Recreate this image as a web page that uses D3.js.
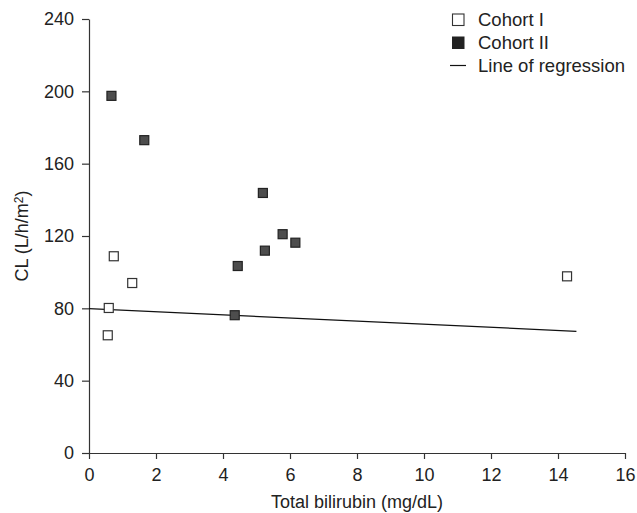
<!DOCTYPE html>
<html>
<head>
<meta charset="utf-8">
<script src="https://cdn.jsdelivr.net/npm/d3@7"></script>
<style>
  body { margin: 0; background: #fff; }
  svg text { font-family: "Liberation Sans", Arial, sans-serif; fill: #222; }
  .axis path, .axis line { stroke: #333; stroke-width: 1.2; }
  .axis text { font-size: 18px; }
</style>
</head>
<body>
<svg id="chart" width="637" height="513"></svg>
<script>
  // Cohort I (open squares): total bilirubin vs CL
  const cohort1X = [0.74, 1.29, 0.59, 0.56, 14.27];
  const cohort1Y = [108.8, 94, 80.2, 65.1, 97.7];

  // Cohort II (filled squares)
  const cohort2X = [0.67, 1.65, 5.19, 5.78, 6.16, 5.25, 4.44, 4.35];
  const cohort2Y = [197.5, 173, 143.8, 121, 116.3, 111.9, 103.4, 76.2];

  // line of regression end points
  const regX = [0, 14.55];
  const regY = [79.8, 67.3];

  const xTicks = [0, 2, 4, 6, 8, 10, 12, 14, 16];
  const yTicks = [0, 40, 80, 120, 160, 200, 240];

  const legendLabels = ['Cohort I', 'Cohort II', 'Line of regression'];

  const margin = { left: 89, right: 12, top: 19, bottom: 60 };
  const WIDTH = 637, HEIGHT = 513;

  const svg = d3.select('#chart');

  const scale = {};
  scale.x = d3.scaleLinear().domain([0, 16]).range([margin.left, WIDTH - margin.right]);
  scale.y = d3.scaleLinear().domain([0, 240]).range([HEIGHT - margin.bottom, margin.top]);

  /*
   * Axes
   */
  svg.append('g')
    .attr('class', 'axis')
    .attr('transform', `translate(0, ${scale.y(0)})`)
    .call(d3.axisBottom(scale.x).tickValues(xTicks).tickSize(6).tickPadding(9).tickSizeOuter(0));

  svg.append('g')
    .attr('class', 'axis')
    .attr('transform', `translate(${scale.x(0)}, 0)`)
    .call(d3.axisLeft(scale.y).tickValues(yTicks).tickSize(7).tickPadding(8).tickSizeOuter(0));

  // axis titles
  svg.append('text')
    .attr('x', (scale.x(0) + scale.x(16)) / 2)
    .attr('y', 508)
    .attr('text-anchor', 'middle')
    .style('font-size', '18px')
    .text('Total bilirubin (mg/dL)');

  const yTitle = svg.append('text')
    .attr('transform', `translate(28, ${(scale.y(0) + scale.y(240)) / 2}) rotate(-90)`)
    .attr('text-anchor', 'middle')
    .style('font-size', '18px');
  yTitle.append('tspan').text('CL (L/h/m');
  yTitle.append('tspan').attr('dy', '-0.45em').style('font-size', '12px').text('2');
  yTitle.append('tspan').attr('dy', '0.3em').text(')');

  /*
   * Regression line
   */
  const line = d3.line()
    .x(d => scale.x(d[0]))
    .y(d => scale.y(d[1]));

  svg.append('path')
    .datum(regX.map((x, i) => [x, regY[i]]))
    .attr('d', line)
    .attr('fill', 'none')
    .attr('stroke', '#111')
    .attr('stroke-width', 1.2);

  /*
   * Points
   */
  const size = 9;

  svg.append('g')
    .selectAll('rect')
    .data(cohort1X.map((x, i) => [x, cohort1Y[i]]))
    .enter()
    .append('rect')
    .attr('x', d => scale.x(d[0]) - size / 2)
    .attr('y', d => scale.y(d[1]) - size / 2)
    .attr('width', size)
    .attr('height', size)
    .attr('fill', '#fff')
    .attr('stroke', '#333')
    .attr('stroke-width', 1.2);

  svg.append('g')
    .selectAll('rect')
    .data(cohort2X.map((x, i) => [x, cohort2Y[i]]))
    .enter()
    .append('rect')
    .attr('x', d => scale.x(d[0]) - size / 2)
    .attr('y', d => scale.y(d[1]) - size / 2)
    .attr('width', size)
    .attr('height', size)
    .attr('fill', '#4d4d4d')
    .attr('stroke', '#222')
    .attr('stroke-width', 1.2);

  /*
   * Legend
   */
  const legend = svg.append('g').attr('transform', 'translate(452, 19.5)');
  const rowH = 23;

  legendLabels.forEach((label, i) => {
    const row = legend.append('g').attr('transform', `translate(0, ${i * rowH})`);
    if (i === 0) {
      row.append('rect').attr('x', 0.5).attr('y', -5.5).attr('width', 11.5).attr('height', 11.5)
        .attr('fill', '#fff').attr('stroke', '#333').attr('stroke-width', 1.1);
    } else if (i === 1) {
      row.append('rect').attr('x', 0).attr('y', -6).attr('width', 12.5).attr('height', 12.5)
        .attr('fill', '#222');
    } else {
      row.append('line').attr('x1', -2).attr('x2', 14).attr('y1', 0).attr('y2', 0)
        .attr('stroke', '#111').attr('stroke-width', 1.2);
    }
    row.append('text')
      .attr('x', 26)
      .attr('y', 0)
      .attr('dy', '0.35em')
      .style('font-size', '18.5px')
      .text(label);
  });
</script>
</body>
</html>
